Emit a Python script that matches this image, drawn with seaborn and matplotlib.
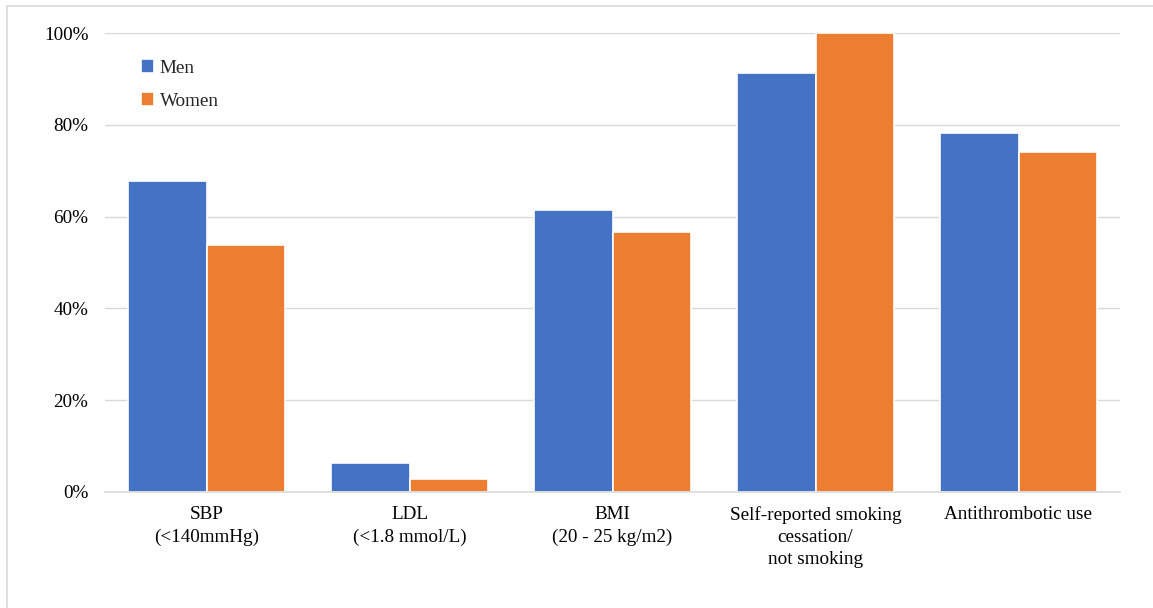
import matplotlib
matplotlib.use("Agg")
import matplotlib.pyplot as plt
import seaborn as sns
import pandas as pd
from matplotlib.patches import Rectangle
from matplotlib.ticker import PercentFormatter

categories = ["SBP\n(<140mmHg)", "LDL\n(<1.8 mmol/L)", "BMI\n(20 - 25 kg/m2)",
              "Self-reported smoking\ncessation/\nnot smoking", "Antithrombotic use"]
men = [67.8, 6.3, 61.4, 91.3, 78.2]
women = [53.8, 2.8, 56.6, 100.0, 74.1]
groups = ["Men", "Women"]
colors = ["#4472C4", "#ED7D31"]

df = pd.DataFrame({
    "cat": categories * 2,
    "val": men + women,
    "grp": [groups[0]] * len(categories) + [groups[1]] * len(categories),
})

sns.set_theme(style="white")
plt.rcParams['font.family'] = ['Liberation Serif', 'DejaVu Serif']

W, H = 1153, 608
fig = plt.figure(figsize=(W / 100, H / 100), dpi=100)
ax = fig.add_axes([105 / W, 1 - 492 / H, (1120 - 105) / W, (492 - 33) / H])

sns.barplot(data=df, x="cat", y="val", hue="grp", palette=colors, width=0.77,
            edgecolor="white", linewidth=1.2, saturation=1, ax=ax, legend=True)

ax.set_ylim(0, 100)
ax.set_xlim(-0.5, len(categories) - 0.5)
ax.set_yticks([0, 20, 40, 60, 80, 100])
ax.yaxis.set_major_formatter(PercentFormatter(decimals=0))
ax.grid(axis="y", color="#D9D9D9", linewidth=1.0)
ax.set_axisbelow(True)
for s in ["top", "right", "left"]:
    ax.spines[s].set_visible(False)
ax.spines["bottom"].set_color("#D9D9D9")
ax.spines["bottom"].set_linewidth(1.2)
ax.set_xlabel("")
ax.set_ylabel("")
ax.tick_params(axis="y", length=0, pad=12, labelsize=13.8, labelcolor="black")
ax.tick_params(axis="x", length=0, pad=10, labelsize=13.8, labelcolor="black")
for t in ax.get_xticklabels():
    t.set_linespacing(1.4)

leg = ax.legend(loc="upper left", bbox_to_anchor=(0.018, 0.98), frameon=False,
                fontsize=13.8, handlelength=0.7, handleheight=0.7,
                handletextpad=0.3, labelspacing=0.8)

fig.patches.append(Rectangle((7 / W, -0.1), 1.2, 1 - 6 / H + 0.1,
                             transform=fig.transFigure, fill=False,
                             edgecolor="#D9D9D9", linewidth=1.2))

fig.savefig("out.png", dpi=100)
